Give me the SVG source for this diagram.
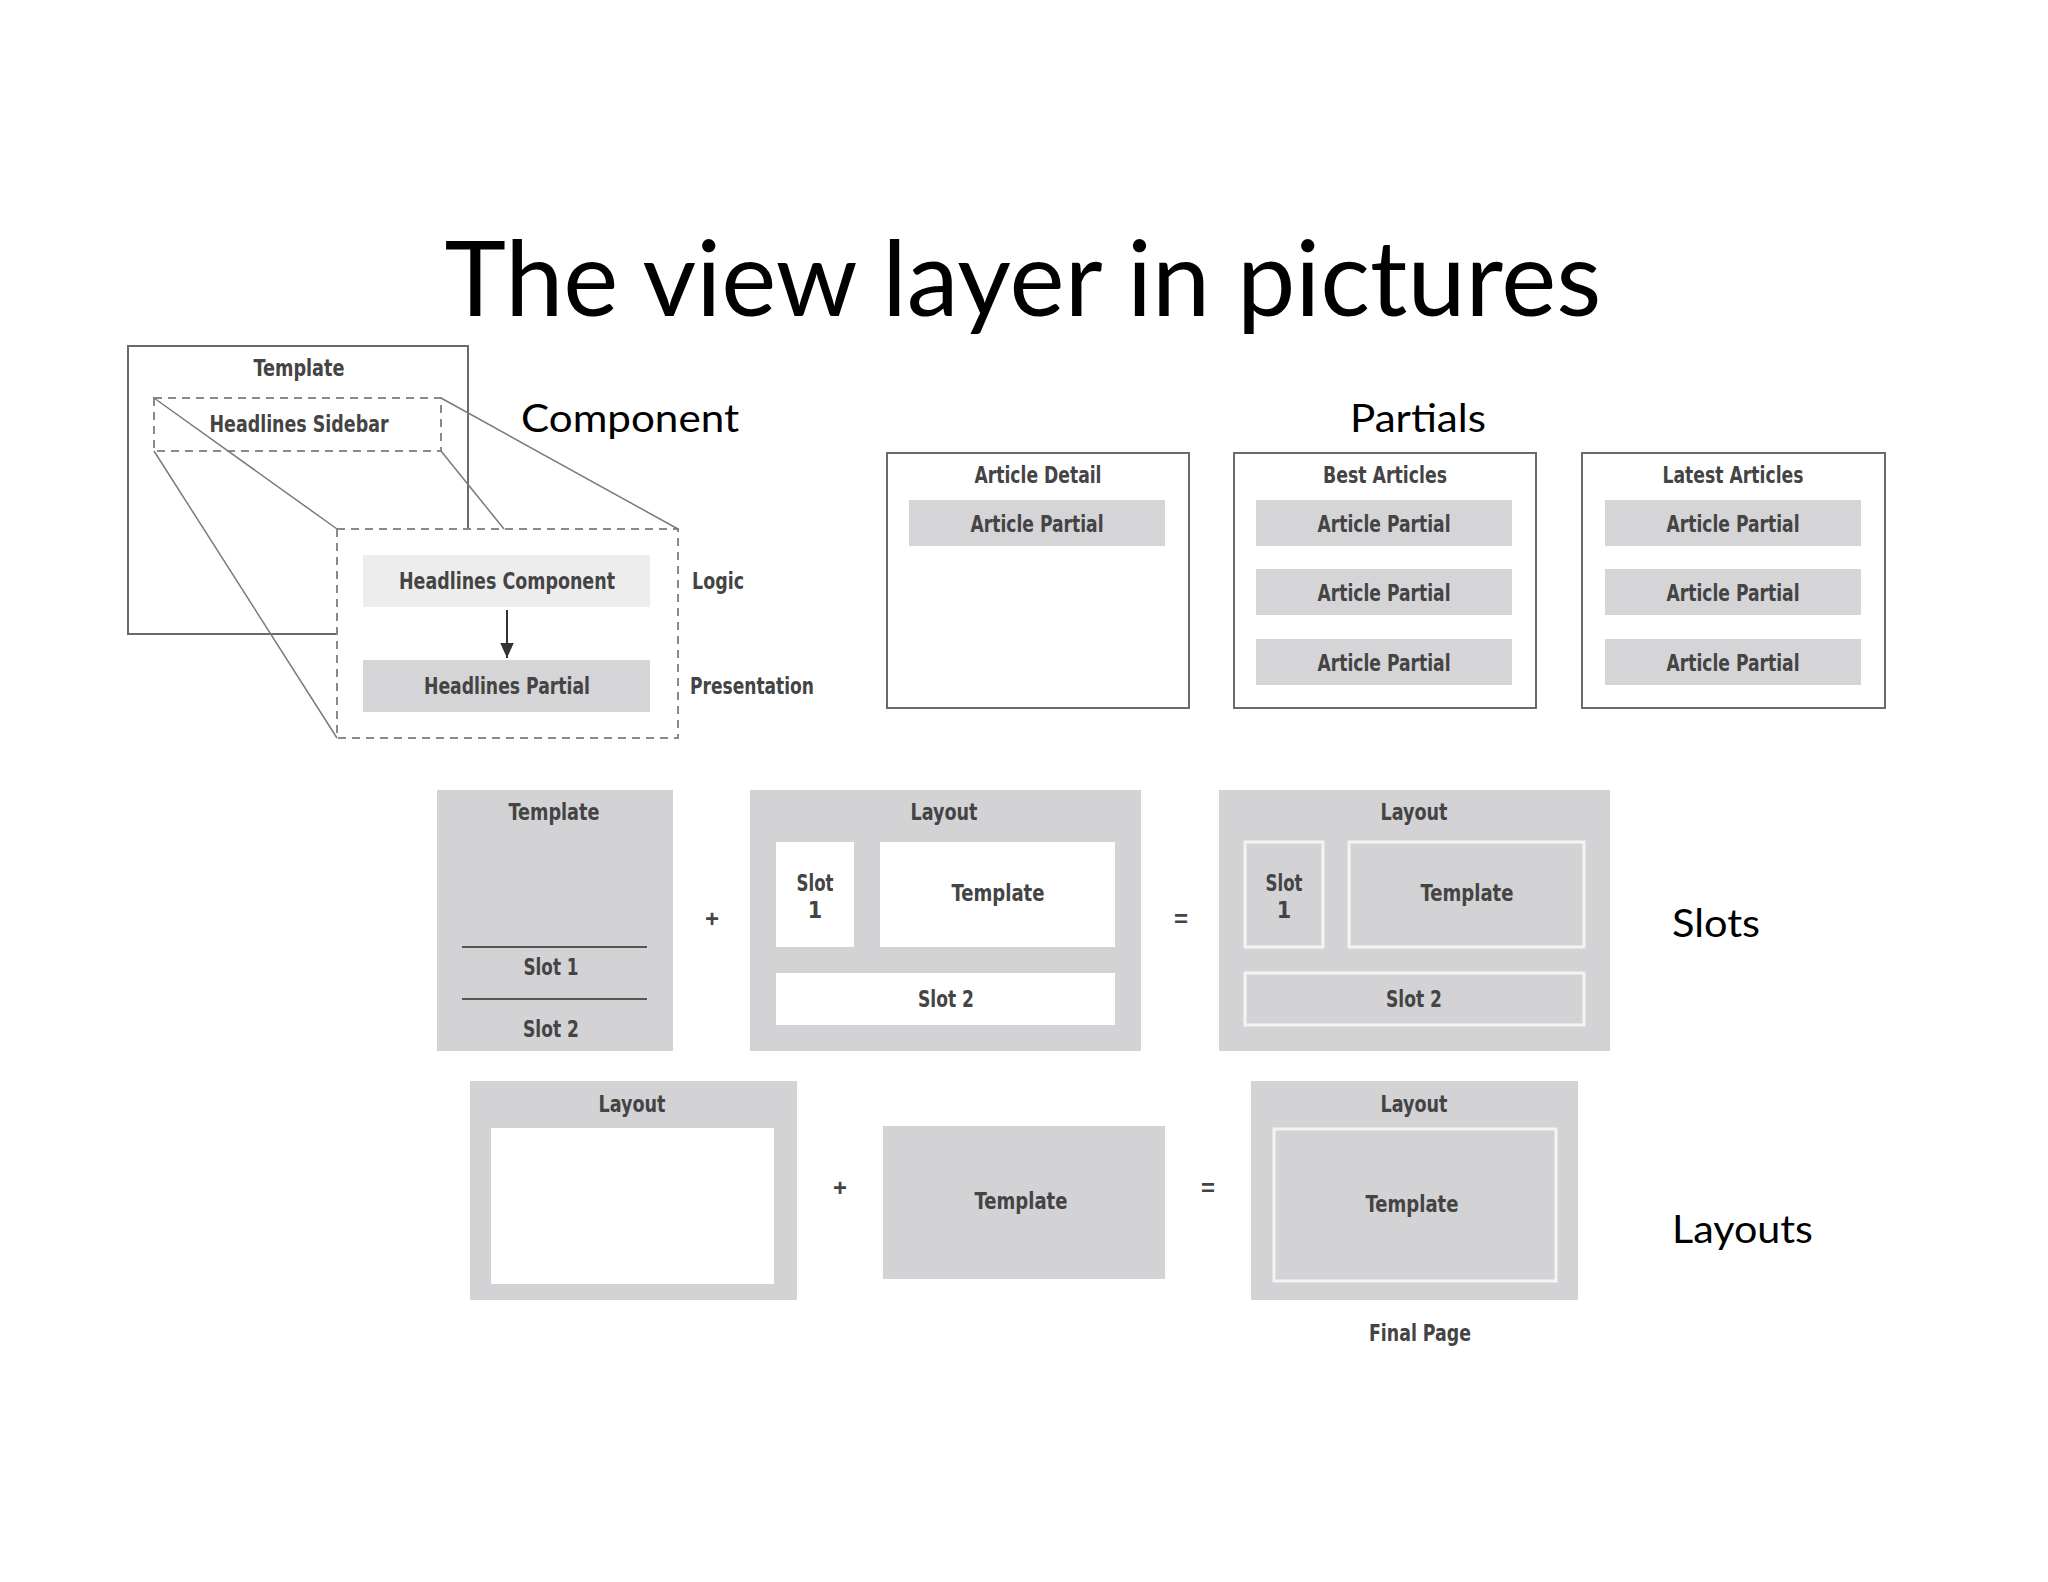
<svg xmlns="http://www.w3.org/2000/svg" width="2048" height="1582" viewBox="0 0 2048 1582">
<style>
.slide{font-family:Lato,"Open Sans",sans-serif;fill:#000}
.lbl{font-family:"DejaVu Sans Condensed","Liberation Sans",sans-serif;font-size:23px;fill:#444;text-anchor:middle;dominant-baseline:central;font-weight:bold}
.lbll{font-family:"DejaVu Sans Condensed","Liberation Sans",sans-serif;font-size:23px;fill:#444;dominant-baseline:central;font-weight:bold}
.op{font-family:"Liberation Sans",sans-serif;font-size:24px;fill:#444;text-anchor:middle;dominant-baseline:central;font-weight:bold}
.box{fill:#fff;stroke:#6a6a6a;stroke-width:2}
.dash{fill:none;stroke:#8a8a8a;stroke-width:2;stroke-dasharray:8 6}
.gray{fill:#d3d3d6}
.part{fill:#d5d5d8}
.white{fill:#fff}
.wout{fill:none;stroke:#f4f4f4;stroke-width:3}
.proj{fill:none;stroke:#7a7a7a;stroke-width:1.5}
</style>
<defs>
<marker id="ah" viewBox="0 0 10 10" refX="10" refY="5" markerWidth="15" markerHeight="15" orient="auto" markerUnits="userSpaceOnUse">
<path d="M0,0.5 L10,5 L0,9.5 z" fill="#333"/>
</marker>
</defs>
<rect width="2048" height="1582" fill="#fff"/>

<text class="slide" x="1023" y="316" font-size="104" text-anchor="middle" textLength="1157" lengthAdjust="spacingAndGlyphs">The view layer in pictures</text>
<text class="slide" x="521" y="432" font-size="38" textLength="218" lengthAdjust="spacingAndGlyphs">Component</text>
<text class="slide" x="1350" y="432" font-size="38" textLength="136" lengthAdjust="spacingAndGlyphs">Partials</text>
<text class="slide" x="1672" y="937" font-size="38" textLength="88" lengthAdjust="spacingAndGlyphs">Slots</text>
<text class="slide" x="1672" y="1243" font-size="38" textLength="141" lengthAdjust="spacingAndGlyphs">Layouts</text>

<!-- Component diagram -->
<g id="template-outer">
<path class="box" d="M337,634 L128,634 L128,346 L468,346 L468,529" fill="none"/>
<text class="lbl" x="299" y="368" textLength="91" lengthAdjust="spacingAndGlyphs">Template</text>
</g>
<g id="headlines-sidebar">
<rect class="dash" x="154" y="398" width="287" height="53"/>
<text class="lbl" x="299" y="424" textLength="179" lengthAdjust="spacingAndGlyphs">Headlines Sidebar</text>
</g>
<g id="component-zoom">
<rect class="dash" x="337" y="529" width="341" height="209"/>
</g>
<g id="headlines-component">
<rect x="363" y="555" width="287" height="52" fill="#ededee"/>
<text class="lbl" x="507" y="581" textLength="216" lengthAdjust="spacingAndGlyphs">Headlines Component</text>
</g>
<g id="headlines-partial">
<rect class="part" x="363" y="660" width="287" height="52"/>
<text class="lbl" x="507" y="686" textLength="166" lengthAdjust="spacingAndGlyphs">Headlines Partial</text>
</g>
<g id="logic-label"><text class="lbll" x="692" y="581" textLength="52" lengthAdjust="spacingAndGlyphs">Logic</text></g>
<g id="presentation-label"><text class="lbll" x="690" y="686" textLength="124" lengthAdjust="spacingAndGlyphs">Presentation</text></g>

<g id="connectors">
<line class="proj" x1="154" y1="398" x2="337" y2="529"/>
<line class="proj" x1="154" y1="451" x2="337" y2="738"/>
<line class="proj" x1="441" y1="398" x2="678" y2="529"/>
<line class="proj" x1="441" y1="451" x2="504" y2="529"/>
<line x1="507" y1="610" x2="507" y2="658" stroke="#333" stroke-width="2" marker-end="url(#ah)"/>
</g>

<!-- Partials -->
<g id="article-detail">
<rect class="box" x="887" y="453" width="302" height="255"/>
<text class="lbl" x="1038" y="475" textLength="127" lengthAdjust="spacingAndGlyphs">Article Detail</text>
<rect class="part" x="909" y="500" width="256" height="46"/>
<text class="lbl" x="1037" y="524" textLength="133" lengthAdjust="spacingAndGlyphs">Article Partial</text>
</g>
<g id="best-articles">
<rect class="box" x="1234" y="453" width="302" height="255"/>
<text class="lbl" x="1385" y="475" textLength="124" lengthAdjust="spacingAndGlyphs">Best Articles</text>
<rect class="part" x="1256" y="500" width="256" height="46"/>
<text class="lbl" x="1384" y="524" textLength="133" lengthAdjust="spacingAndGlyphs">Article Partial</text>
<rect class="part" x="1256" y="569" width="256" height="46"/>
<text class="lbl" x="1384" y="593" textLength="133" lengthAdjust="spacingAndGlyphs">Article Partial</text>
<rect class="part" x="1256" y="639" width="256" height="46"/>
<text class="lbl" x="1384" y="663" textLength="133" lengthAdjust="spacingAndGlyphs">Article Partial</text>
</g>
<g id="latest-articles">
<rect class="box" x="1582" y="453" width="303" height="255"/>
<text class="lbl" x="1733" y="475" textLength="141" lengthAdjust="spacingAndGlyphs">Latest Articles</text>
<rect class="part" x="1605" y="500" width="256" height="46"/>
<text class="lbl" x="1733" y="524" textLength="133" lengthAdjust="spacingAndGlyphs">Article Partial</text>
<rect class="part" x="1605" y="569" width="256" height="46"/>
<text class="lbl" x="1733" y="593" textLength="133" lengthAdjust="spacingAndGlyphs">Article Partial</text>
<rect class="part" x="1605" y="639" width="256" height="46"/>
<text class="lbl" x="1733" y="663" textLength="133" lengthAdjust="spacingAndGlyphs">Article Partial</text>
</g>

<!-- Slots -->
<g id="slots-template">
<rect class="gray" x="437" y="790" width="236" height="261"/>
<text class="lbl" x="554" y="812" textLength="91" lengthAdjust="spacingAndGlyphs">Template</text>
<line x1="462" y1="947" x2="647" y2="947" stroke="#555" stroke-width="2"/>
<text class="lbl" x="551" y="967" textLength="55" lengthAdjust="spacingAndGlyphs">Slot 1</text>
<line x1="462" y1="999" x2="647" y2="999" stroke="#555" stroke-width="2"/>
<text class="lbl" x="551" y="1029" textLength="56" lengthAdjust="spacingAndGlyphs">Slot 2</text>
</g>
<g id="slots-plus"><text class="op" x="712" y="918">+</text></g>
<g id="slots-layout">
<rect class="gray" x="750" y="790" width="391" height="261"/>
<text class="lbl" x="944" y="812" textLength="67" lengthAdjust="spacingAndGlyphs">Layout</text>
<rect class="white" x="776" y="842" width="78" height="105"/>
<text class="lbl" x="815" y="883" textLength="37" lengthAdjust="spacingAndGlyphs">Slot</text>
<text class="lbl" x="815" y="910">1</text>
<rect class="white" x="880" y="842" width="235" height="105"/>
<text class="lbl" x="998" y="893" textLength="93" lengthAdjust="spacingAndGlyphs">Template</text>
<rect class="white" x="776" y="973" width="339" height="52"/>
<text class="lbl" x="946" y="999" textLength="56" lengthAdjust="spacingAndGlyphs">Slot 2</text>
</g>
<g id="slots-equals"><text class="op" x="1181" y="918">=</text></g>
<g id="slots-result">
<rect class="gray" x="1219" y="790" width="391" height="261"/>
<text class="lbl" x="1414" y="812" textLength="67" lengthAdjust="spacingAndGlyphs">Layout</text>
<rect class="wout" x="1245" y="842" width="78" height="105"/>
<text class="lbl" x="1284" y="883" textLength="37" lengthAdjust="spacingAndGlyphs">Slot</text>
<text class="lbl" x="1284" y="910">1</text>
<rect class="wout" x="1349" y="842" width="235" height="105"/>
<text class="lbl" x="1467" y="893" textLength="93" lengthAdjust="spacingAndGlyphs">Template</text>
<rect class="wout" x="1245" y="973" width="339" height="52"/>
<text class="lbl" x="1414" y="999" textLength="56" lengthAdjust="spacingAndGlyphs">Slot 2</text>
</g>

<!-- Layouts -->
<g id="layouts-layout">
<rect class="gray" x="470" y="1081" width="327" height="219"/>
<text class="lbl" x="632" y="1104" textLength="67" lengthAdjust="spacingAndGlyphs">Layout</text>
<rect class="white" x="491" y="1128" width="283" height="156"/>
</g>
<g id="layouts-plus"><text class="op" x="840" y="1187">+</text></g>
<g id="layouts-template">
<rect class="gray" x="883" y="1126" width="282" height="153"/>
<text class="lbl" x="1021" y="1201" textLength="93" lengthAdjust="spacingAndGlyphs">Template</text>
</g>
<g id="layouts-equals"><text class="op" x="1208" y="1187">=</text></g>
<g id="layouts-result">
<rect class="gray" x="1251" y="1081" width="327" height="219"/>
<text class="lbl" x="1414" y="1104" textLength="67" lengthAdjust="spacingAndGlyphs">Layout</text>
<rect class="wout" x="1274" y="1129" width="282" height="152"/>
<text class="lbl" x="1412" y="1204" textLength="93" lengthAdjust="spacingAndGlyphs">Template</text>
<text class="lbl" x="1420" y="1333" textLength="102" lengthAdjust="spacingAndGlyphs">Final Page</text>
</g>
</svg>
